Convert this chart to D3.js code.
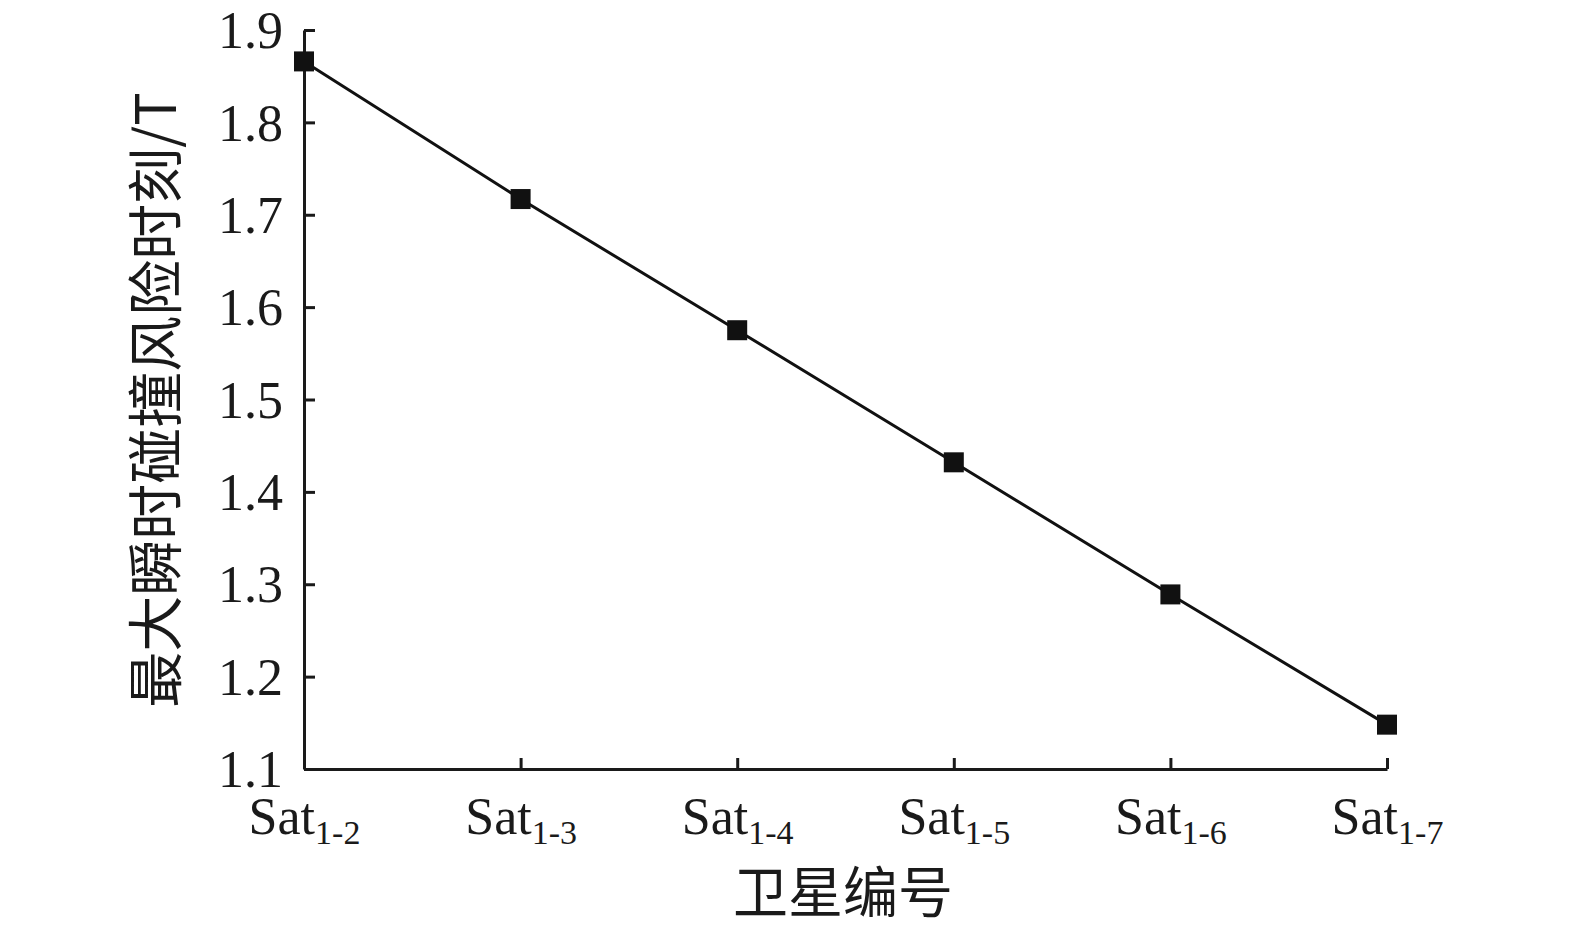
<!DOCTYPE html>
<html><head><meta charset="utf-8">
<script src="https://cdn.jsdelivr.net/npm/d3@7"></script>
<style>body{margin:0;background:#fff;}</style>
</head><body>
<script>
const categories = ["1-2","1-3","1-4","1-5","1-6","1-7"];
const values = [1.866, 1.717, 1.575, 1.432, 1.289, 1.148];
const yTicks = [1.1,1.2,1.3,1.4,1.5,1.6,1.7,1.8,1.9];
const xTitle = "卫星编号";
const yTitle = "最大瞬时碰撞风险时刻/T";

const W=1575,H=931;
const svg=d3.select("body").append("svg").attr("width",W).attr("height",H);
const x=d3.scalePoint().domain(categories).range([304,1387]).padding(0);
const y=d3.scaleLinear().domain([1.1,1.9]).range([769,30]);
const serif="'Liberation Serif','Times New Roman',serif";
const cjk="'Noto Sans CJK SC',sans-serif";

const yAx=svg.append("g").attr("transform","translate(304,0)")
  .call(d3.axisLeft(y).tickValues(yTicks).tickSizeInner(-11).tickSizeOuter(0).tickFormat(d3.format(".1f")));
yAx.select(".domain").attr("stroke","#1a1a1a").attr("stroke-width",3);
yAx.selectAll(".tick line").attr("stroke","#1a1a1a").attr("stroke-width",3);
yAx.selectAll(".tick text").attr("x",-21).attr("dy","0.34em").attr("font-family",serif).attr("font-size",52).attr("fill","#1a1a1a");

const xAx=svg.append("g").attr("transform","translate(0,769)")
  .call(d3.axisBottom(x).tickSizeInner(-11).tickSizeOuter(0).tickFormat(""));
xAx.select(".domain").attr("stroke","#1a1a1a").attr("stroke-width",3);
xAx.selectAll(".tick line").attr("stroke","#1a1a1a").attr("stroke-width",3);
xAx.selectAll(".tick text").remove();
xAx.selectAll(".tick").append("text")
  .attr("y",65).attr("text-anchor","middle").attr("font-family",serif).attr("fill","#1a1a1a")
  .each(function(d){
    const t=d3.select(this);
    t.append("tspan").attr("font-size",52).text("Sat");
    t.append("tspan").attr("font-size",34).attr("dy",10).text(d);
  });

svg.append("path").datum(values)
  .attr("fill","none").attr("stroke","#111").attr("stroke-width",3)
  .attr("d",d3.line().x((d,i)=>x(categories[i])).y(d=>y(d)));

svg.selectAll("rect.m").data(values).join("rect").attr("class","m")
  .attr("x",(d,i)=>x(categories[i])-10).attr("y",d=>y(d)-10)
  .attr("width",20).attr("height",20).attr("fill","#111");

svg.append("text").attr("x",843).attr("y",912).attr("text-anchor","middle")
  .attr("font-family",cjk).attr("font-size",55).attr("fill","#1a1a1a").text(xTitle);
svg.append("text").attr("transform","translate(176,400) rotate(-90)").attr("text-anchor","middle")
  .attr("font-family",cjk).attr("font-size",56).attr("fill","#1a1a1a").text(yTitle);
</script>
</body></html>
